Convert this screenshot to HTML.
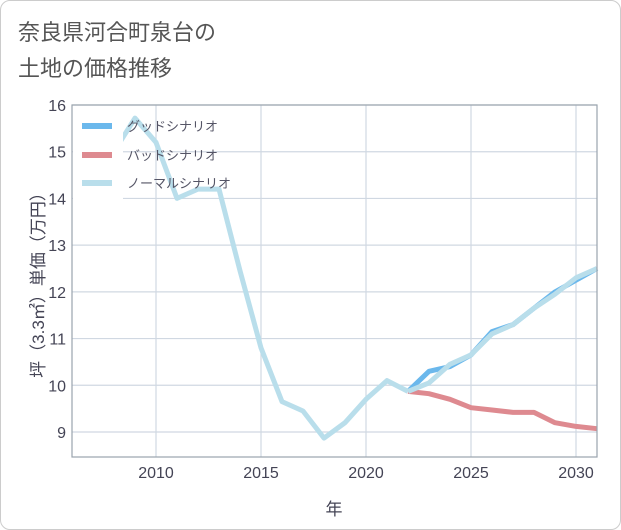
<!DOCTYPE html>
<html><head><meta charset="utf-8"><style>
body{margin:0;background:#fff;font-family:"Liberation Sans","Noto Sans CJK JP",sans-serif;}
#wrap{position:relative;width:619px;height:528px;border:1px solid #ccc;border-radius:10px;overflow:hidden;background:#fff}
</style></head><body>
<div id="wrap">
<svg id="c" width="621" height="530" style="position:absolute;left:-1px;top:-1px" font-family="Liberation Sans, Noto Sans CJK JP, sans-serif">
<text x="18" y="40" font-size="22" fill="#555">奈良県河合町泉台の</text>
<text x="18" y="76" font-size="22" fill="#555">土地の価格推移</text>
<g id="grid"></g><g id="series"></g>
<rect x="72" y="105" width="525" height="352" fill="none" stroke="#9aa4ad" stroke-width="1.2"/>
<text transform="translate(44,281) rotate(-90)" text-anchor="middle" font-size="17" fill="#445">坪（3.3㎡）単価（万円）</text>
<text x="334" y="515" text-anchor="middle" font-size="17" fill="#445">年</text>
<g id="legend"></g>
</svg>
</div>
<script>
const years=[2008,2009,2010,2011,2012,2013,2014,2015,2016,2017,2018,2019,2020,2021,2022,2023,2024,2025,2026,2027,2028,2029,2030,2031];
const hist=[15.0,15.72,15.2,14.0,14.2,14.2,12.45,10.8,9.65,9.45,8.87,9.2,9.7,10.1,9.87];
const futYears=[2022,2023,2024,2025,2026,2027,2028,2029,2030,2031];
const good=[9.87,10.3,10.4,10.65,11.15,11.3,11.65,12.0,12.25,12.5];
const bad=[9.87,9.82,9.7,9.52,9.47,9.42,9.42,9.2,9.12,9.07];
const normal=[9.87,10.05,10.45,10.65,11.1,11.3,11.65,11.95,12.3,12.5];
const xTicks=[2010,2015,2020,2025,2030];
const yTicks=[9,10,11,12,13,14,15,16];
const NS='http://www.w3.org/2000/svg';
const X=y=>156+(y-2010)*21;
const Y=v=>105+(16-v)*46.714;
function mk(t,a,p){const e=document.createElementNS(NS,t);for(const k in a)e.setAttribute(k,a[k]);p.appendChild(e);return e;}
const g=document.getElementById('grid'),s=document.getElementById('series'),L=document.getElementById('legend');
xTicks.forEach(t=>{const l=mk('line',{x1:X(t),x2:X(t),y1:105,y2:457,stroke:'#d0d8e2','stroke-width':1.2},g);


const tx=mk('text',{x:X(t),y:478,'text-anchor':'middle','font-size':16,fill:'#445'},g);tx.textContent=t;

});
yTicks.forEach(t=>{const l=mk('line',{x1:72,x2:597,y1:Y(t),y2:Y(t),stroke:'#d0d8e2','stroke-width':1.2},g);


const tx=mk('text',{x:66,y:Y(t)+6,'text-anchor':'end','font-size':16,fill:'#445'},g);tx.textContent=t;

});
function line(xs,vs,col,name){const d=vs.map((v,i)=>(i?'L':'M')+X(xs[i]).toFixed(1)+','+Y(v).toFixed(1)).join('');
const p=mk('path',{d:d,fill:'none',stroke:col,'stroke-width':5,'stroke-linejoin':'round'},s);

}
line(futYears,good,'#6bb8ec','good-scenario-line');
line(futYears,bad,'#de8a90','bad-scenario-line');
line(years.slice(0,hist.length),hist,'#b9deeb','history-line');
line(futYears,normal,'#b9deeb','normal-scenario-line');
const bg=mk('rect',{x:73,y:108,width:50,height:95,fill:'#fff'},L);


[['グッドシナリオ','#6bb8ec',126],['バッドシナリオ','#de8a90',155],['ノーマルシナリオ','#b9deeb',183]].forEach(([t,c,y])=>{
const r=mk('rect',{x:82,y:y-3,width:30,height:6,fill:c},L);


const tx=mk('text',{x:127,y:y+5,'font-size':13,fill:'#556'},L);tx.textContent=t;

});
</script>
</body></html>
